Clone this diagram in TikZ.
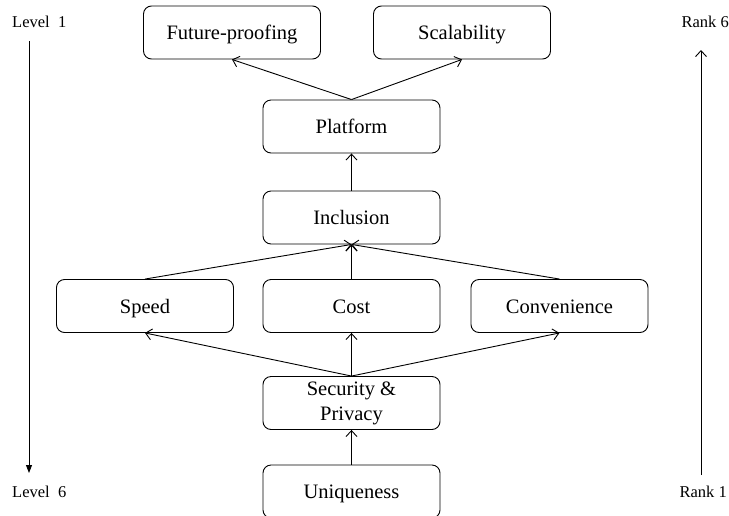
\documentclass[tikz,border=0pt]{standalone}
\usepackage{fontspec}
\setmainfont{Liberation Serif}
\usetikzlibrary{arrows.meta}
\begin{document}
\begin{tikzpicture}[x=1pt,y=-1pt,
  box/.style={draw, rounded corners=8pt, line width=0.9pt, minimum width=177pt, minimum height=53pt, inner sep=2pt, font=\fontsize{20.5}{22}\selectfont, align=center, text height=17pt, text depth=2.5pt},
  lbl/.style={font=\fontsize{16.5}{18}\selectfont, inner sep=0pt},
  conn/.style={line width=0.9pt, -{Straight Barb[length=6pt,width=11pt]}},
  side/.style={line width=0.9pt}]
\useasboundingbox (0,0) rectangle (729,515);
\node[box] (fp) at (232,32.5) {Future-proofing};
\node[box] (scal) at (462,32.5) {Scalability};
\node[box] (plat) at (351.5,126.5) {Platform};
\node[box] (incl) at (351.5,217.5) {Inclusion};
\node[box] (speed) at (145,306) {Speed};
\node[box] (cost) at (351.5,306) {Cost};
\node[box] (conv) at (559.5,306) {Convenience};
\node[box, font=\fontsize{20.5}{25}\selectfont, text height=, text depth=, minimum height=53pt] (sec) at (351.5,403) {\raisebox{-2.5pt}{\parbox{170pt}{\centering Security \&\\Privacy}}};
\node[box] (uniq) at (351.5,491.5) {Uniqueness};
\draw[conn] (plat.north) -- (fp.south);
\draw[conn] (plat.north) -- (scal.south);
\draw[conn] (incl.north) -- (plat.south);
\draw[conn] (speed.north) -- (incl.south);
\draw[conn] (cost.north) -- (incl.south);
\draw[conn] (conv.north) -- (incl.south);
\draw[conn] (sec.north) -- (speed.south);
\draw[conn] (sec.north) -- (cost.south);
\draw[conn] (sec.north) -- (conv.south);
\draw[conn] (uniq.north) -- (sec.south);
\node[lbl, anchor=west] (l1) at (12,22) {Level\ \ 1};
\node[lbl, anchor=west] (l6) at (12,492) {Level\ \ 6};
\node[lbl, anchor=east] (r6) at (729,22) {Rank\ 6};
\node[lbl, anchor=east] (r1) at (727,492) {Rank\ 1};
\coordinate (la) at (29,41);
\coordinate (lb) at (29,473);
\coordinate (ra) at (701,475);
\coordinate (rb) at (701,50);
\draw[side, -{Triangle[length=8pt,width=6pt]}] (la) -- (lb);
\draw[side, -{Straight Barb[length=6pt,width=11pt]}] (ra) -- (rb);
\end{tikzpicture}
\end{document}
